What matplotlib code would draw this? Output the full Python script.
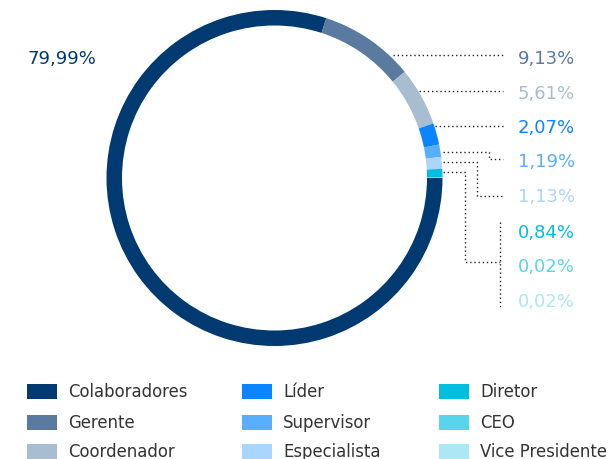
import matplotlib.pyplot as plt
from matplotlib.patches import Rectangle

# share of employees by role (%)
roles = ["Colaboradores", "Gerente", "Coordenador", "Líder", "Supervisor",
         "Especialista", "Diretor", "CEO", "Vice Presidente"]
shares = [79.99, 9.13, 5.61, 2.07, 1.19, 1.13, 0.84, 0.02, 0.02]
colors = ["#003A70", "#5A7B9F", "#A9BDD1", "#0A84FF", "#58AEFF",
          "#AAD5FF", "#00BEDF", "#58D5EA", "#ABE8F3"]

W, H = 612, 460


def py(y):
    # pixel row (top-down) -> data y (bottom-up)
    return H - y


fig = plt.figure(figsize=(W / 100, H / 100), dpi=100)
ax = fig.add_axes([0, 0, 1, 1])

ax.pie(shares, colors=colors, startangle=0, counterclock=False,
       center=(274.5, py(179)), radius=168,
       wedgeprops=dict(width=15.5, linewidth=0))
ax.set_xlim(0, W)
ax.set_ylim(0, H)
ax.set_aspect("equal")
ax.axis("off")


def pct(v):
    return f"{v:.2f}".replace(".", ",") + "%"


# value labels
ax.text(27, py(59), pct(shares[0]), color=colors[0], fontsize=13,
        ha="left", va="center")
label_rows = [59, 94, 128, 162, 197, 233, 267, 302]
for value, color, y in zip(shares[1:], colors[1:], label_rows):
    ax.text(518, py(y), pct(value), color=color, fontsize=13,
            ha="left", va="center")

# dotted leader lines
leaders = [
    [(393, 56), (503, 56)],
    [(419, 92), (503, 92)],
    [(435, 127), (503, 127)],
    [(443, 153), (489, 153), (489, 160), (503, 160)],
    [(443, 163), (477, 163), (477, 197), (503, 197)],
    [(443, 173), (465, 173), (465, 263), (500, 263)],
    [(500, 223), (500, 308)],
]
for path in leaders:
    xs = [p[0] for p in path]
    ys = [py(p[1]) for p in path]
    ax.plot(xs, ys, color="#222222", lw=1.0, linestyle=(0, (1, 2)))

# legend, three columns of three
col_x = [27, 242, 439]
row_y = [392.5, 423.5, 452.5]
for i, (role, color) in enumerate(zip(roles, colors)):
    x = col_x[i // 3]
    y = row_y[i % 3]
    ax.add_patch(Rectangle((x, py(y) - 7.5), 30, 15, color=color, lw=0))
    ax.text(x + 41, py(y), role, color="#333333", fontsize=11.9,
            ha="left", va="center")

fig.savefig("out.png", dpi=100)
